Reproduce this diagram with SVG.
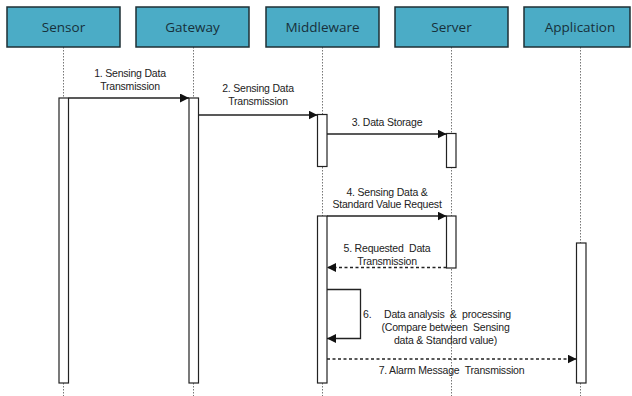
<svg xmlns="http://www.w3.org/2000/svg" width="632" height="396" viewBox="0 0 632 396">
<style>
.hd{fill:#4bacc6;stroke:#1e2f35;stroke-width:1.5}
.ht{font-family:"Open Sans","Liberation Sans",sans-serif;font-size:13.5px;fill:#17303a;text-anchor:middle}
.ll{stroke:#777;stroke-width:1;stroke-dasharray:1.5 1.5;fill:none}
.bar{fill:#fff;stroke:#222;stroke-width:1.2}
.msg{stroke:#222;stroke-width:1.3;fill:none}
.dsh{stroke-dasharray:3 2.5}
.lb{font-family:"Liberation Sans",Arial,sans-serif;font-size:10.5px;letter-spacing:-0.2px;fill:#222;text-anchor:middle}
.ls{font-family:"Liberation Sans",Arial,sans-serif;font-size:10.5px;letter-spacing:-0.2px;fill:#222}
</style>
<defs>
<marker id="ah" viewBox="0 0 10 10" refX="10" refY="5" markerWidth="9" markerHeight="9" markerUnits="userSpaceOnUse" orient="auto">
<path d="M0,0 L10,5 L0,10 Z" fill="#111"/>
</marker>
</defs>
<g id="lifelines">
<line class="ll" x1="63.5" y1="47" x2="63.5" y2="396"/>
<line class="ll" x1="193.5" y1="47" x2="193.5" y2="396"/>
<line class="ll" x1="322.5" y1="47" x2="322.5" y2="396"/>
<line class="ll" x1="451.5" y1="47" x2="451.5" y2="396"/>
<line class="ll" x1="580.5" y1="47" x2="580.5" y2="396"/>
</g>
<g id="sensor"><rect class="hd" x="7" y="7" width="113" height="40"/><text class="ht" x="63.5" y="32">Sensor</text></g>
<g id="gateway"><rect class="hd" x="136" y="7" width="113" height="40"/><text class="ht" x="192.5" y="32">Gateway</text></g>
<g id="middleware"><rect class="hd" x="266" y="7" width="113" height="40"/><text class="ht" x="322.5" y="32">Middleware</text></g>
<g id="server"><rect class="hd" x="395" y="7" width="113" height="40"/><text class="ht" x="451.5" y="32">Server</text></g>
<g id="application"><rect class="hd" x="524" y="7" width="106" height="40"/><text class="ht" x="580" y="32">Application</text></g>
<g id="activations">
<rect class="bar" x="59" y="98" width="9.5" height="285"/>
<rect class="bar" x="189" y="98" width="9.5" height="285"/>
<rect class="bar" x="317.5" y="114.5" width="9.5" height="52"/>
<rect class="bar" x="446.5" y="133.5" width="9.5" height="34"/>
<rect class="bar" x="317.5" y="216" width="9.5" height="167"/>
<rect class="bar" x="446.5" y="216" width="9.5" height="52"/>
<rect class="bar" x="576.5" y="243" width="9.5" height="140"/>
</g>
<g id="connectors">
<line class="msg" x1="68.5" y1="98" x2="189" y2="98" marker-end="url(#ah)"/>
<line class="msg" x1="198.5" y1="115" x2="317.5" y2="115" marker-end="url(#ah)"/>
<line class="msg" x1="327" y1="134" x2="446.5" y2="134" marker-end="url(#ah)"/>
<line class="msg" x1="327" y1="216" x2="446.5" y2="216" marker-end="url(#ah)"/>
<line class="msg dsh" x1="446.5" y1="267.5" x2="327" y2="267.5" marker-end="url(#ah)"/>
<polyline class="msg" points="327,289.5 360.5,289.5 360.5,338.5 327,338.5" marker-end="url(#ah)"/>
<line class="msg dsh" x1="327" y1="359" x2="576.5" y2="359" marker-end="url(#ah)"/>
</g>
<g id="labels">
<text class="lb" x="130" y="77">1. Sensing Data</text>
<text class="lb" x="130" y="90">Transmission</text>
<text class="lb" x="258" y="92">2. Sensing Data</text>
<text class="lb" x="258" y="105">Transmission</text>
<text class="lb" x="387" y="126">3. Data Storage</text>
<text class="lb" x="387" y="196">4. Sensing Data &amp;</text>
<text class="lb" x="387" y="208">Standard Value Request</text>
<text class="lb" x="387" y="252" xml:space="preserve">5. Requested  Data</text>
<text class="lb" x="387" y="265">Transmission</text>
<text class="ls" x="363" y="318">6.</text>
<text class="ls" x="384" y="318" xml:space="preserve">Data analysis  &amp;  processing</text>
<text class="lb" x="445.5" y="331" xml:space="preserve">(Compare between  Sensing</text>
<text class="lb" x="445.5" y="344">data &amp; Standard value)</text>
<text class="lb" x="451.5" y="374" xml:space="preserve">7. Alarm Message  Transmission</text>
</g>
</svg>
